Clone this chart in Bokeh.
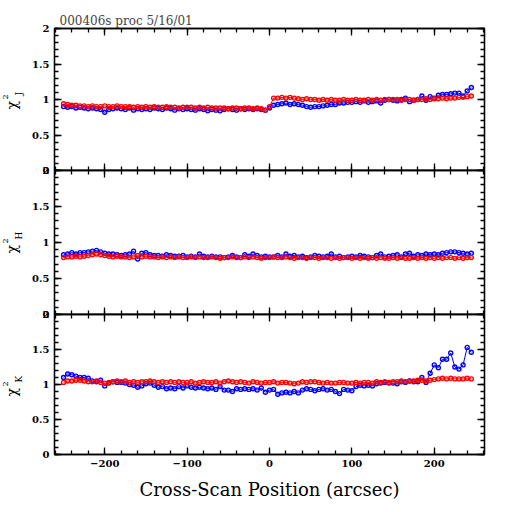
import math
from bokeh.plotting import figure
from bokeh.layouts import column
from bokeh.models import Range1d, LinearAxis, FixedTicker, Label
from bokeh.embed import file_html
from bokeh.resources import INLINE

# ---------------- data ----------------
x_pos = list(range(-250, 250, 5))  # cross-scan positions (arcsec)

j_blue = [0.90,0.89,0.90,0.88,0.89,0.88,0.87,0.88,0.87,0.86,
          0.82,0.86,0.87,0.88,0.87,0.86,0.88,0.85,0.87,0.86,
          0.87,0.86,0.88,0.87,0.86,0.88,0.87,0.85,0.87,0.86,
          0.87,0.86,0.85,0.87,0.86,0.84,0.86,0.85,0.84,0.86,
          0.87,0.86,0.85,0.87,0.86,0.87,0.86,0.87,0.86,0.85,
          0.88,0.92,0.93,0.94,0.95,0.93,0.94,0.93,0.92,0.90,
          0.89,0.90,0.90,0.91,0.92,0.93,0.93,0.95,0.95,0.96,
          0.96,0.97,0.96,0.98,0.96,0.97,0.98,0.95,0.99,1.00,
          0.99,0.98,1.00,1.02,0.97,0.99,1.00,1.05,0.99,1.04,
          1.02,1.06,1.07,1.07,1.08,1.09,1.09,1.05,1.12,1.17]
j_red = [0.94,0.93,0.92,0.92,0.91,0.91,0.90,0.91,0.90,0.90,
         0.91,0.90,0.90,0.91,0.90,0.90,0.90,0.89,0.90,0.89,
         0.90,0.89,0.90,0.89,0.89,0.90,0.89,0.89,0.88,0.89,
         0.89,0.89,0.88,0.89,0.88,0.89,0.88,0.88,0.88,0.88,
         0.87,0.88,0.88,0.87,0.88,0.88,0.87,0.88,0.87,0.85,
         0.90,1.02,1.02,1.03,1.02,1.03,1.02,1.01,1.00,1.01,
         1.00,1.00,0.99,1.00,0.99,1.00,0.99,0.99,1.00,0.99,
         0.99,1.00,0.99,0.99,1.00,0.99,1.00,0.99,1.00,1.00,
         1.00,1.00,0.99,1.00,1.00,0.99,1.00,1.00,1.01,1.00,
         1.01,1.01,1.02,1.01,1.02,1.02,1.03,1.03,1.04,1.05]
h_blue = [0.83,0.84,0.86,0.84,0.86,0.86,0.87,0.88,0.89,0.87,
          0.85,0.84,0.84,0.83,0.82,0.83,0.84,0.88,0.77,0.85,
          0.86,0.83,0.82,0.82,0.81,0.83,0.82,0.81,0.81,0.82,
          0.80,0.81,0.80,0.84,0.81,0.80,0.81,0.80,0.80,0.79,
          0.80,0.82,0.80,0.79,0.83,0.81,0.84,0.82,0.80,0.81,
          0.80,0.80,0.82,0.80,0.84,0.81,0.82,0.80,0.81,0.79,
          0.80,0.82,0.81,0.80,0.81,0.84,0.80,0.81,0.79,0.80,
          0.81,0.80,0.82,0.81,0.80,0.79,0.82,0.84,0.80,0.81,
          0.82,0.83,0.80,0.84,0.85,0.81,0.83,0.82,0.84,0.83,
          0.84,0.83,0.85,0.86,0.87,0.87,0.86,0.85,0.84,0.85]
h_red = [0.79,0.80,0.80,0.81,0.80,0.81,0.82,0.83,0.84,0.83,
         0.82,0.81,0.80,0.81,0.80,0.80,0.79,0.80,0.82,0.80,
         0.81,0.80,0.80,0.79,0.80,0.79,0.80,0.79,0.80,0.79,
         0.79,0.80,0.79,0.80,0.79,0.79,0.80,0.79,0.78,0.79,
         0.79,0.80,0.79,0.79,0.80,0.79,0.80,0.79,0.78,0.79,
         0.79,0.80,0.79,0.79,0.80,0.79,0.78,0.79,0.79,0.78,
         0.79,0.79,0.78,0.79,0.79,0.78,0.79,0.78,0.79,0.79,
         0.78,0.79,0.78,0.79,0.78,0.79,0.78,0.79,0.78,0.78,
         0.79,0.78,0.79,0.78,0.78,0.79,0.78,0.79,0.78,0.79,
         0.78,0.79,0.78,0.79,0.79,0.78,0.79,0.78,0.79,0.79]
k_blue = [1.10,1.15,1.14,1.12,1.10,1.10,1.09,1.05,1.04,1.06,
          0.98,1.02,1.04,1.03,1.03,1.02,1.00,0.99,0.96,0.98,
          1.01,1.02,0.99,0.96,0.97,0.94,0.95,0.94,0.97,0.95,
          0.98,0.96,0.95,0.96,0.95,0.94,0.95,0.93,0.97,0.92,
          0.92,0.90,0.94,0.93,0.94,0.93,0.94,0.92,0.95,0.89,
          0.92,0.93,0.86,0.88,0.89,0.88,0.90,0.88,0.92,0.94,
          0.93,0.91,0.93,0.94,0.92,0.93,0.90,0.87,0.93,0.92,
          0.91,0.97,0.99,0.98,0.99,0.98,1.01,1.02,1.03,1.02,
          1.02,1.01,1.04,1.03,1.05,1.04,1.04,1.10,1.03,1.16,
          1.28,1.24,1.36,1.36,1.45,1.25,1.22,1.28,1.53,1.46]
k_red = [1.03,1.05,1.05,1.06,1.06,1.05,1.04,1.04,1.05,1.03,
         1.02,1.03,1.04,1.05,1.04,1.05,1.03,1.04,1.03,1.04,
         1.04,1.05,1.04,1.03,1.04,1.03,1.04,1.03,1.04,1.03,
         1.03,1.04,1.02,1.03,1.04,1.03,1.03,1.04,1.02,1.04,
         1.05,1.04,1.03,1.04,1.03,1.02,1.04,1.03,1.02,1.03,
         1.03,1.04,1.02,1.03,1.03,1.02,1.01,1.02,1.04,1.03,
         1.04,1.04,1.03,1.02,1.03,1.02,1.02,1.03,1.03,1.02,
         1.02,1.03,1.02,1.03,1.03,1.02,1.04,1.03,1.04,1.03,
         1.04,1.04,1.05,1.04,1.05,1.05,1.06,1.06,1.05,1.06,
         1.07,1.08,1.09,1.08,1.09,1.08,1.08,1.08,1.09,1.08]

x_ticks = [-200, -100, 0, 100, 200]
x_tick_labels = ["\u2212200", "\u2212100", "0", "100", "200"]
x_minor = list(range(-260, 261, 20))
y_ticks = [0, 0.5, 1, 1.5, 2]
y_tick_labels = ["0", "0.5", "1", "1.5", "2"]
y_minor = [i / 10 for i in range(0, 21)]
band_names = ["J", "H", "K"]
title_text = "000406s proc 5/16/01"
x_title = "Cross-Scan Position (arcsec)"

SERIF = "DejaVu Serif"
LW = 1.3
GAP = 8  # spare border above/below inner panels so boundary tick labels are not cut


def style_axis(ax, ticks, minor, labels=None):
    ax.ticker = FixedTicker(ticks=ticks, minor_ticks=minor)
    ax.axis_line_color = "black"
    ax.axis_line_width = LW
    ax.major_tick_line_color = "black"
    ax.minor_tick_line_color = "black"
    ax.major_tick_line_width = LW
    ax.minor_tick_line_width = LW
    ax.major_tick_in = 7
    ax.major_tick_out = 0
    ax.minor_tick_in = 4
    ax.minor_tick_out = 0
    if labels is None:
        ax.major_label_text_font_size = "0px"
        ax.major_label_text_color = None
        ax.major_label_standoff = 0
    else:
        ax.major_label_overrides = {t: l for t, l in zip(ticks, labels)}
        ax.major_label_text_font = SERIF
        ax.major_label_text_font_style = "bold"
        ax.major_label_text_font_size = "10px"
        ax.major_label_text_color = "black"
        ax.major_label_standoff = 5


def add_text(p, x, y, text, size, side):
    # canvas pixel position (top-left origin), rotated to read upward
    p.add_layout(Label(x=x, y=y, x_units="canvas", y_units="canvas", text=text,
                       angle=math.pi / 2, text_font=SERIF, text_font_size=size,
                       text_align="left", text_baseline="alphabetic", text_color="black"),
                 side)


def make_panel(blue, red, band, top_b, bottom_b, frame_h, last, shift):
    height = top_b + frame_h + bottom_b
    p = figure(width=504, height=height, output_backend="svg", toolbar_location=None,
               x_range=Range1d(-261, 261), y_range=Range1d(0, 2),
               x_axis_location=None, y_axis_location=None,
               min_border_left=54, min_border_right=20,
               min_border_top=top_b, min_border_bottom=bottom_b,
               margin=(-shift, 0, 0, 0))
    p.grid.visible = False
    p.outline_line_color = "black"
    p.outline_line_width = LW
    p.background_fill_color = "white"
    p.border_fill_color = None
    p.border_fill_alpha = 0

    left = LinearAxis()
    style_axis(left, y_ticks, y_minor, y_tick_labels)
    p.add_layout(left, "left")
    right = LinearAxis()
    style_axis(right, y_ticks, y_minor)
    p.add_layout(right, "right")
    top = LinearAxis()
    style_axis(top, x_ticks, x_minor)
    p.add_layout(top, "above")
    bottom = LinearAxis()
    if last:
        style_axis(bottom, x_ticks, x_minor, x_tick_labels)
        bottom.axis_label = x_title
        bottom.axis_label_text_font = SERIF
        bottom.axis_label_text_font_style = "normal"
        bottom.axis_label_text_font_size = "18px"
        bottom.axis_label_standoff = 9
        bottom.axis_label_text_color = "black"
    else:
        style_axis(bottom, x_ticks, x_minor)
    p.add_layout(bottom, "below")

    p.line(x_pos, blue, line_color="#0000ff", line_width=1)
    p.scatter(x_pos, blue, marker="circle", size=4, fill_color=None,
              line_color="#0000ff", line_width=1.4)
    p.line(x_pos, red, line_color="#ff0000", line_width=1)
    p.scatter(x_pos, red, marker="circle", size=4, fill_color=None,
              line_color="#ff0000", line_width=1.4)

    fb = top_b + frame_h  # frame bottom in canvas pixels
    add_text(p, 11, fb - 61, "\u03c7", "14px", "right")
    add_text(p, 5, fb - 71, "2", "8px", "left")
    add_text(p, 18, fb - 75, band, "9px", "left")
    return p


p1 = make_panel(j_blue, j_red, band_names[0], 28, GAP, 142, False, 0)
p1.title.text = title_text
p1.title.text_font = SERIF
p1.title.text_font_size = "12px"
p1.title.text_font_style = "normal"
p1.title.align = "left"
p1.title.offset = 5
p1.title.standoff = 2
p2 = make_panel(h_blue, h_red, band_names[1], GAP, GAP, 144, False, 2 * GAP)
p3 = make_panel(k_blue, k_red, band_names[2], GAP, 45, 143, True, 2 * GAP)

layout = column(p1, p2, p3, spacing=0)
open("out.html", "w").write(file_html(layout, INLINE))
